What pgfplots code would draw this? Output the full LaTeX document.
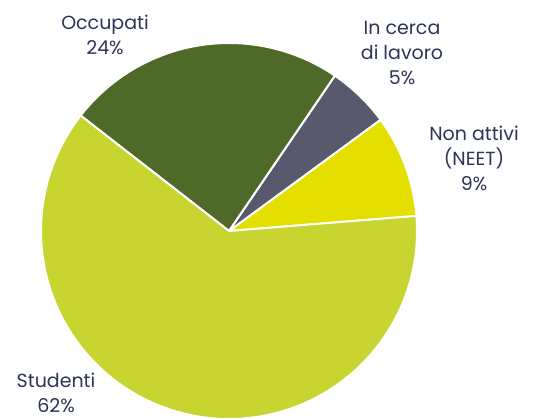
\documentclass[border=0pt]{standalone}
\usepackage{pgfplots}
\pgfplotsset{compat=1.18}
\usepackage{fontspec}
\setmainfont{Poppins}
\definecolor{cOcc}{RGB}{79,106,40}
\definecolor{cCerca}{RGB}{88,89,108}
\definecolor{cNeet}{RGB}{229,223,0}
\definecolor{cStud}{RGB}{200,212,47}
\definecolor{cTxt}{RGB}{44,52,88}
% shares (percent), counter-clockwise from the first boundary
\def\vNeet{8.8}
\def\vCerca{5.4}
\def\vOcc{24.0}
\def\vStud{61.8}
\def\aStart{4.6}
\pgfmathsetmacro\aA{\aStart}
\pgfmathsetmacro\aB{\aA+3.6*\vNeet}
\pgfmathsetmacro\aC{\aB+3.6*\vCerca}
\pgfmathsetmacro\aD{\aC+3.6*\vOcc}
\pgfmathsetmacro\aE{\aD+3.6*\vStud}
\def\cx{229}
\def\cy{188}
\def\rr{188}
\tikzset{lbl/.style={font=\fontsize{19}{25}\selectfont, text=cTxt, align=center, inner sep=0pt}}
\begin{document}
\begin{tikzpicture}
\begin{axis}[
  scale only axis, width=537pt, height=419pt,
  xmin=0, xmax=537, ymin=0, ymax=419,
  hide axis,
]
\addplot[fill=cNeet, draw=white, line width=2pt, domain=\aA:\aB, samples=40, variable=\t]
  ({\cx+\rr*cos(\t)},{\cy+\rr*sin(\t)}) -- (axis cs:\cx,\cy) -- cycle;
\addplot[fill=cCerca, draw=white, line width=2pt, domain=\aB:\aC, samples=40, variable=\t]
  ({\cx+\rr*cos(\t)},{\cy+\rr*sin(\t)}) -- (axis cs:\cx,\cy) -- cycle;
\addplot[fill=cOcc, draw=white, line width=2pt, domain=\aC:\aD, samples=80, variable=\t]
  ({\cx+\rr*cos(\t)},{\cy+\rr*sin(\t)}) -- (axis cs:\cx,\cy) -- cycle;
\addplot[fill=cStud, draw=white, line width=2pt, domain=\aD:\aE, samples=160, variable=\t]
  ({\cx+\rr*cos(\t)},{\cy+\rr*sin(\t)}) -- (axis cs:\cx,\cy) -- cycle;
\node[lbl] at (axis cs:105,384) {Occupati\\24\%};
\node[lbl] at (axis cs:402,366) {In cerca\\di lavoro\\5\%};
\node[lbl] at (axis cs:474,261) {Non attivi\\(NEET)\\9\%};
\node[lbl] at (axis cs:56,26) {Studenti\\62\%};
\end{axis}
\pgfresetboundingbox
\path[use as bounding box] (current axis.south west) rectangle (current axis.north east);
\end{tikzpicture}
\end{document}
